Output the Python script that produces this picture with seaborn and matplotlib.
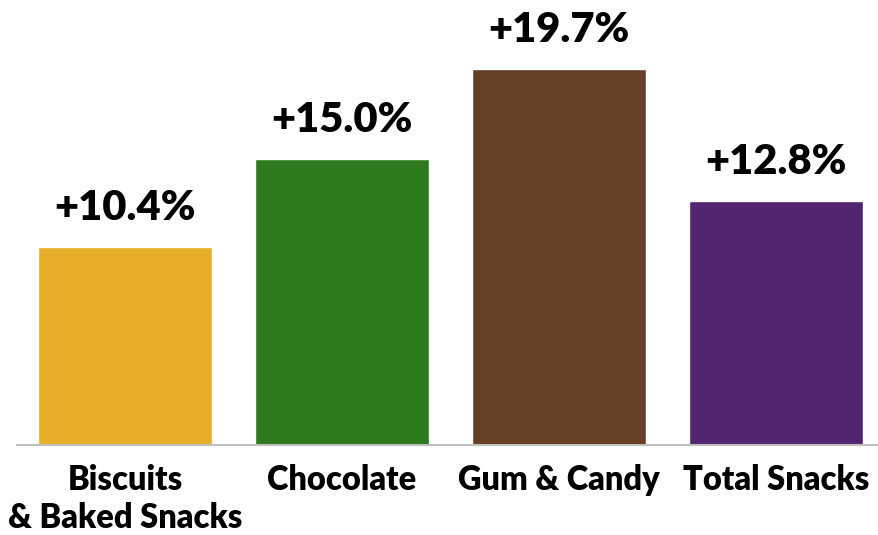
import matplotlib
matplotlib.use("Agg")
import matplotlib.pyplot as plt
import pandas as pd
import seaborn as sns

# Chart data
categories = ["Biscuits\n& Baked Snacks", "Chocolate", "Gum & Candy", "Total Snacks"]
growth = [10.4, 15.0, 19.7, 12.8]
bar_colors = ["#E8AE2A", "#2E7A1E", "#654027", "#532570"]

df = pd.DataFrame({"Category": categories, "Growth": growth})

sns.set_theme(style="white")
plt.rcParams["font.family"] = ["Lato", "DejaVu Sans"]

fig = plt.figure(figsize=(8.79, 5.35), dpi=100)
ax = fig.add_axes([16.5 / 879, 90 / 535, 868 / 879, 445 / 535])

sns.barplot(
    data=df,
    x="Category",
    y="Growth",
    hue="Category",
    palette=bar_colors,
    legend=False,
    width=0.8,
    saturation=1,
    ax=ax,
)

# Value labels above each bar
for i, val in enumerate(growth):
    ax.text(
        i,
        val + 1.05,
        f"+{val:.1f}%",
        ha="center",
        va="bottom",
        fontsize=30,
        fontweight="heavy",
        color="black",
    )

ax.set_xlim(-0.5, 3.5)
ax.set_ylim(0, 23.34)
ax.set_xlabel("")
ax.set_ylabel("")
ax.set_yticks([])
ax.tick_params(axis="x", length=0, pad=14)
for lbl in ax.get_xticklabels():
    lbl.set_fontsize(23.5)
    lbl.set_fontweight("heavy")
    lbl.set_color("black")
    lbl.set_linespacing(1.2)

for side in ["top", "left", "right"]:
    ax.spines[side].set_visible(False)
ax.spines["bottom"].set_color("#BFBFBF")
ax.spines["bottom"].set_linewidth(1.5)

fig.savefig("out.png", dpi=100)
